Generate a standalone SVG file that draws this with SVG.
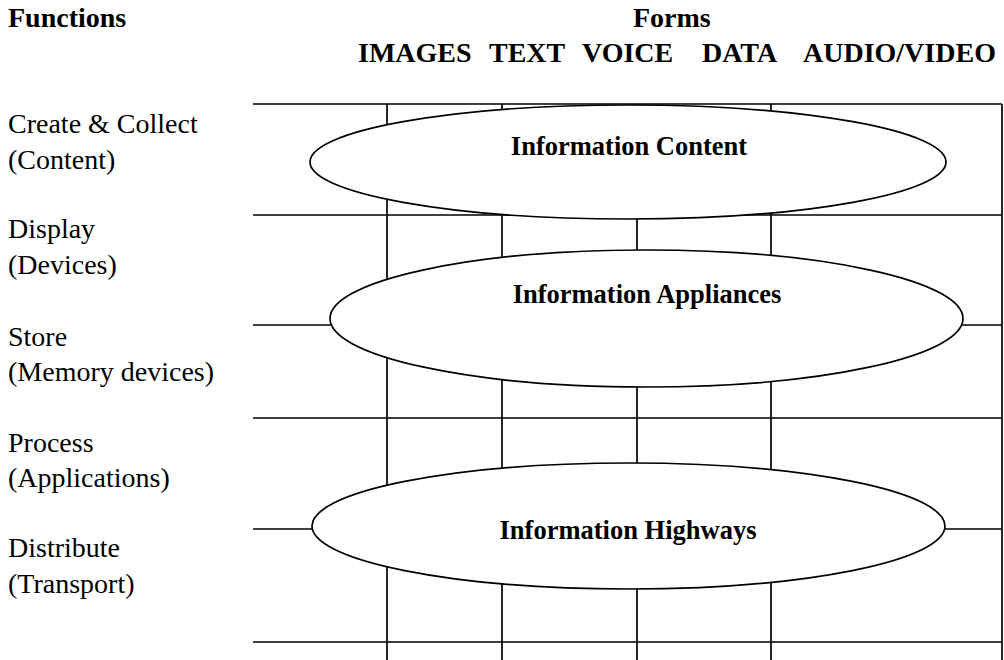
<svg xmlns="http://www.w3.org/2000/svg" width="1004" height="660" viewBox="0 0 1004 660">
  <style>
    .grid line { stroke: #000; stroke-width: 1.7; fill: none; }
    .oval { fill: #fff; stroke: #000; stroke-width: 1.7; }
    .hdr { font-family: "Liberation Serif", "Times New Roman", serif; font-weight: bold; font-size: 28px; fill: #000; }
    .lbl { font-family: "Liberation Serif", "Times New Roman", serif; font-size: 28px; fill: #000; }
    .node-text { font-family: "Liberation Serif", "Times New Roman", serif; font-weight: bold; font-size: 26.5px; fill: #000; text-anchor: middle; }
  </style>
  <rect width="1004" height="660" fill="#fff"/>

  <!-- headings -->
  <g id="headings">
    <text class="hdr" x="8" y="27">Functions</text>
    <text class="hdr" x="633" y="27">Forms</text>
    <text class="hdr" x="358" y="62">IMAGES</text>
    <text class="hdr" x="489" y="62">TEXT</text>
    <text class="hdr" x="582" y="62">VOICE</text>
    <text class="hdr" x="702" y="62">DATA</text>
    <text class="hdr" x="803" y="62">AUDIO/VIDEO</text>
  </g>

  <!-- function rows -->
  <g id="functions">
    <text class="lbl" x="8" y="133">Create &amp; Collect</text>
    <text class="lbl" x="8" y="169">(Content)</text>
    <text class="lbl" x="8" y="238">Display</text>
    <text class="lbl" x="8" y="274">(Devices)</text>
    <text class="lbl" x="8" y="346">Store</text>
    <text class="lbl" x="8" y="381">(Memory devices)</text>
    <text class="lbl" x="8" y="452">Process</text>
    <text class="lbl" x="8" y="487">(Applications)</text>
    <text class="lbl" x="8" y="557">Distribute</text>
    <text class="lbl" x="8" y="593">(Transport)</text>
  </g>

  <!-- grid of form columns and function rows -->
  <g id="connectors" class="grid">
    <line x1="253" y1="104" x2="1002" y2="104"/>
    <line x1="253" y1="215" x2="1002" y2="215"/>
    <line x1="253" y1="325" x2="1002" y2="325"/>
    <line x1="253" y1="418" x2="1002" y2="418"/>
    <line x1="253" y1="529" x2="1002" y2="529"/>
    <line x1="253" y1="642" x2="1002" y2="642"/>
    <line x1="387" y1="104" x2="387" y2="660"/>
    <line x1="502" y1="104" x2="502" y2="660"/>
    <line x1="637" y1="104" x2="637" y2="660"/>
    <line x1="771" y1="104" x2="771" y2="660"/>
    <line x1="1002" y1="104" x2="1002" y2="660"/>
  </g>

  <g id="information-content">
    <ellipse class="oval" cx="628" cy="162" rx="318" ry="57"/>
    <text class="node-text" x="629" y="155">Information Content</text>
  </g>

  <g id="information-appliances">
    <ellipse class="oval" cx="646.5" cy="318.5" rx="316.5" ry="68.5"/>
    <text class="node-text" x="647" y="303">Information Appliances</text>
  </g>

  <g id="information-highways">
    <ellipse class="oval" cx="628.5" cy="526" rx="316.5" ry="63"/>
    <text class="node-text" x="628" y="539">Information Highways</text>
  </g>
</svg>
